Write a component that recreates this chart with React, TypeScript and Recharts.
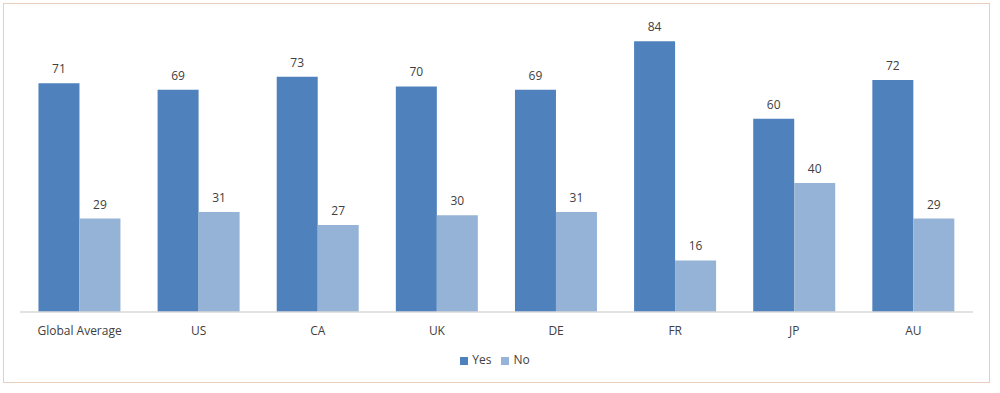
import React from "react";
import { BarChart, Bar, XAxis, YAxis, Legend, LabelList } from "recharts";

const categories = ["Global Average", "US", "CA", "UK", "DE", "FR", "JP", "AU"];
const yesValues = [71, 69, 73, 70, 69, 84, 60, 72];
const noValues = [29, 31, 27, 30, 31, 16, 40, 29];
const seriesOrder = ["Yes", "No"];

const data = categories.map((c, i) => ({ name: c, Yes: yesValues[i], No: noValues[i] }));

const FONT = "'Open Sans', sans-serif";

export default function App() {
  return (
    <div style={{ position: "absolute", left: 0, top: 0, width: 1000, height: 393, background: "#fff", fontFamily: FONT }}>
      <div
        style={{
          position: "absolute",
          left: 3,
          top: 3,
          width: 985,
          height: 378,
          border: "1.5px solid #e9cdbd",
        }}
      />
      <BarChart
        width={1000}
        height={393}
        data={data}
        margin={{ top: 22, right: 27, left: 20, bottom: 51 }}
        barCategoryGap="15.5%"
        barGap={0}
      >
        <XAxis
          dataKey="name"
          height={30}
          axisLine={{ stroke: "#d9d9d9", strokeWidth: 1.5 }}
          tickLine={false}
          tick={{ fill: "#404040", fontSize: 12, fontFamily: FONT }}
          tickMargin={8}
          interval={0}
        />
        <YAxis hide domain={[0, 90]} />
        <Legend
          verticalAlign="middle"
          align="center"
          layout="horizontal"
          iconType="square"
          iconSize={8}
          itemSorter={(item: any) => seriesOrder.indexOf(String(item.value))}
          wrapperStyle={{ top: 351, left: 0, width: 1000, fontSize: 12, fontFamily: FONT }}
          formatter={(v) => <span style={{ color: "#404040" }}>{v}</span>}
        />
        <Bar dataKey="Yes" fill="#4f81bd" isAnimationActive={false}>
          <LabelList dataKey="Yes" position="top" offset={10} fill="#404040" fontSize={12} fontFamily={FONT} />
        </Bar>
        <Bar dataKey="No" fill="#95b3d7" isAnimationActive={false}>
          <LabelList dataKey="No" position="top" offset={10} fill="#404040" fontSize={12} fontFamily={FONT} />
        </Bar>
      </BarChart>
    </div>
  );
}
